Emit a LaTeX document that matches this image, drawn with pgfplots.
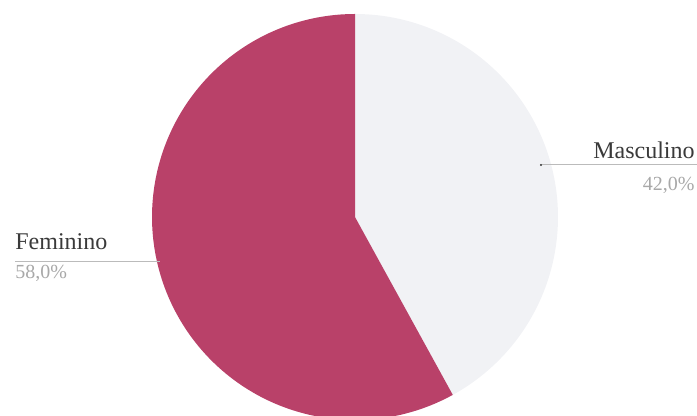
\documentclass[border=0pt]{standalone}
\usepackage{pgfplots}
\usepackage{pgfplotstable}
\pgfplotsset{compat=1.18}
\usepackage{fontspec}
\setmainfont{Liberation Serif}
\definecolor{fem}{HTML}{B94169}
\definecolor{masc}{HTML}{F1F2F5}
\definecolor{lbl}{HTML}{3A3A3A}
\definecolor{pct}{HTML}{A8A8A8}
\definecolor{lead}{HTML}{BBBBBB}
\pgfplotstableread{
label value
Masculino 42.0
Feminino 58.0
}\piedata
\pgfplotstablegetelem{0}{value}\of\piedata \let\vmasc\pgfplotsretval
\pgfplotstablegetelem{1}{value}\of\piedata \let\vfem\pgfplotsretval
\begin{document}
\begin{tikzpicture}
\pgfmathsetmacro{\aend}{90-3.6*\vmasc}
\pgfmathsetmacro{\fend}{\aend-3.6*\vfem}
\begin{axis}[
  scale only axis, width=348.5pt, height=208pt,
  xmin=0, xmax=697, ymin=0, ymax=416,
  axis lines=none, clip=true,
]
\addplot[fill=masc, draw=none, domain=\aend:90, samples=120]
  ({355+203*cos(x)},{199+203*sin(x)}) -- (axis cs:355,199) -- cycle;
\addplot[fill=fem, draw=none, domain=\fend:\aend, samples=160]
  ({355+203*cos(x)},{199+203*sin(x)}) -- (axis cs:355,199) -- cycle;
\draw[lead, line width=0.5pt] (axis cs:540,251) -- (axis cs:697,251);
\fill[lbl] (axis cs:541,251) circle (0.6pt);
\node[anchor=east, text=lbl, font=\fontsize{12}{14}\selectfont, inner sep=0pt] at (axis cs:695,266) {Masculino};
\node[anchor=east, text=pct, font=\fontsize{10}{12}\selectfont, inner sep=0pt] at (axis cs:695,231) {42,0\%};
\draw[lead, line width=0.5pt] (axis cs:15,154) -- (axis cs:160,154);
\node[anchor=west, text=lbl, font=\fontsize{12}{14}\selectfont, inner sep=0pt] at (axis cs:15,174) {Feminino};
\node[anchor=west, text=pct, font=\fontsize{10}{12}\selectfont, inner sep=0pt] at (axis cs:15,143) {58,0\%};
\end{axis}
\path (current axis.south west) rectangle (current axis.north east);
\end{tikzpicture}
\end{document}
